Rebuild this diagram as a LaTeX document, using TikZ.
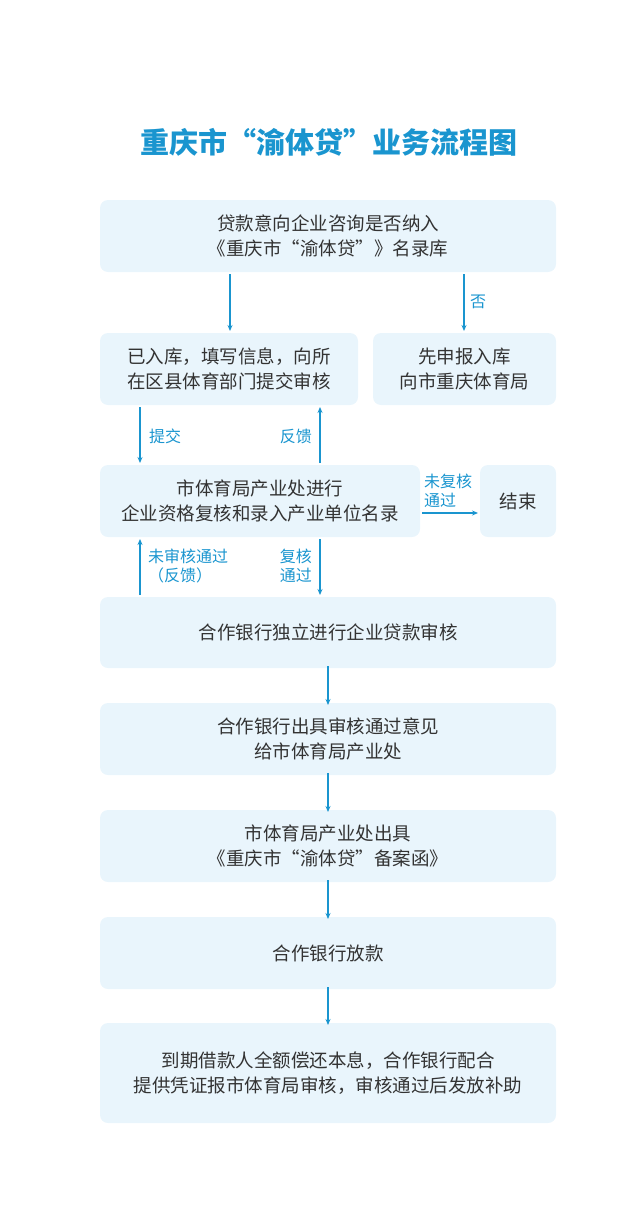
\documentclass[tikz,border=0pt]{standalone}
\usepackage{fontspec}
\setmainfont{Noto Sans CJK SC}
\usetikzlibrary{arrows.meta}
\definecolor{bl}{HTML}{1A95CF}
\definecolor{bx}{HTML}{E9F5FC}
\definecolor{tx}{HTML}{333333}
\begin{document}
\begin{tikzpicture}[x=1pt,y=-1pt,
  bx/.style={fill=bx,rounded corners=8pt},
  bt/.style={text=tx,font=\fontsize{18.5}{25}\selectfont,align=center},
  lb/.style={text=bl,font=\fontsize{16}{19}\selectfont,align=left,inner sep=1pt},
  ar/.style={draw=bl,line width=1.3pt,-{Stealth[length=6pt,width=5pt]}}]
\useasboundingbox (0,0) rectangle (640,1223);
\node[text=bl,font=\fontsize{29}{34}\selectfont\bfseries] (title) at (329,142) {重庆市“渝体贷”业务流程图};
\def\B#1#2#3#4#5#6{\fill[bx] (#2,#3) rectangle (#4,#5); \node[bt] (#1) at ({(#2+#4)/2},{(#3+#5)/2}) {#6};
 \coordinate (#1n) at ({(#2+#4)/2},#3); \coordinate (#1s) at ({(#2+#4)/2},#5);}
\B{b1}{100}{200}{556}{272}{贷款意向企业咨询是否纳入\\《重庆市“渝体贷”》名录库}
\B{b2}{100}{333}{358}{405}{已入库，填写信息，向所\\在区县体育部门提交审核}
\B{b3}{373}{333}{556}{405}{先申报入库\\向市重庆体育局}
\B{b4}{100}{465}{420}{537}{市体育局产业处进行\\企业资格复核和录入产业单位名录}
\B{b5}{480}{465}{556}{537}{结束}
\B{b6}{100}{597}{556}{668}{合作银行独立进行企业贷款审核}
\B{b7}{100}{703}{556}{775}{合作银行出具审核通过意见\\给市体育局产业处}
\B{b8}{100}{810}{556}{882}{市体育局产业处出具\\《重庆市“渝体贷”备案函》}
\B{b9}{100}{917}{556}{989}{合作银行放款}
\B{b10}{100}{1023}{556}{1123}{到期借款人全额偿还本息，合作银行配合\\提供凭证报市体育局审核，审核通过后发放补助}
\coordinate (a1) at (230,274); \coordinate (a1e) at (230,331);
\draw[ar] (a1) -- (a1e);
\coordinate (a2) at (464,274); \coordinate (a2e) at (464,331);
\draw[ar] (a2) -- (a2e);
\node[lb,anchor=west] (l1) at (469,302) {否};
\coordinate (a3) at (140,407); \coordinate (a3e) at (140,463);
\draw[ar] (a3) -- (a3e);
\node[lb,anchor=west] (l2) at (148,436) {提交};
\coordinate (a4) at (320,463); \coordinate (a4e) at (320,407);
\draw[ar] (a4) -- (a4e);
\node[lb,anchor=east] (l3) at (313,436) {反馈};
\coordinate (a5) at (422,513); \coordinate (a5e) at (478,513);
\draw[ar] (a5) -- (a5e);
\node[lb,anchor=south west] (l4) at (423,509) {未复核\\通过};
\coordinate (a6) at (140,595); \coordinate (a6e) at (140,539);
\draw[ar] (a6) -- (a6e);
\node[lb,anchor=west] (l5) at (147,566) {未审核通过\\（反馈）};
\coordinate (a7) at (320,539); \coordinate (a7e) at (320,595);
\draw[ar] (a7) -- (a7e);
\node[lb,anchor=east] (l6) at (313,566) {复核\\通过};
\foreach \u/\v in {b6s/b7n,b7s/b8n,b8s/b9n,b9s/b10n}{
  \draw[ar] ([yshift=2pt]\u) -- ([yshift=-2pt]\v);}
\end{tikzpicture}
\end{document}
